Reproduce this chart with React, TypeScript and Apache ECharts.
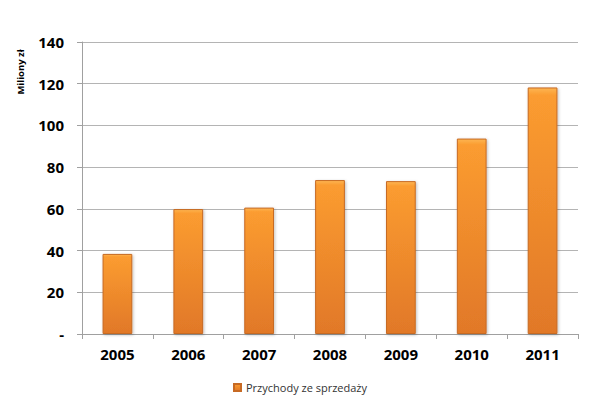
import React, { useEffect, useRef } from "react";
import * as echarts from "echarts";

const categories = ["2005", "2006", "2007", "2008", "2009", "2010", "2011"];
const values = [38.4, 59.9, 60.6, 73.8, 73.3, 93.7, 118.2];
const seriesName = "Przychody ze sprzedaży";
const yAxisName = "Miliony zł";

export default function App() {
  const ref = useRef<HTMLDivElement>(null);
  useEffect(() => {
    if (!ref.current) return;
    const chart = echarts.init(ref.current, undefined, { renderer: "svg" });
    const font = "'Open Sans', 'Liberation Sans', Arial, sans-serif";
    chart.setOption({
      animation: false,
      backgroundColor: "#ffffff",
      grid: { left: 82, right: 22, top: 42, bottom: 73, containLabel: false },
      legend: {
        bottom: 9,
        left: "center",
        itemWidth: 7,
        itemHeight: 7,
        icon: "rect",
        textStyle: { fontFamily: font, fontSize: 11, color: "#333" },
        data: [seriesName],
      },
      graphic: [
        {
          type: "text",
          x: 20,
          y: 72,
          rotation: Math.PI / 2,
          style: {
            text: yAxisName,
            fontFamily: font,
            fontSize: 9.5,
            fontWeight: "bold",
            fill: "#000",
            align: "center",
            verticalAlign: "middle",
          },
        },
      ],
      xAxis: {
        type: "category",
        data: categories,
        axisLine: { show: true, lineStyle: { color: "#a0a0a0", width: 1 } },
        axisTick: { show: true, alignWithLabel: false, length: 5, lineStyle: { color: "#a0a0a0" } },
        axisLabel: { fontFamily: font, fontSize: 15, fontWeight: "bold", color: "#000", margin: 12 },
      },
      yAxis: {
        type: "value",
        min: 0,
        max: 140,
        interval: 20,
        axisLine: { show: true, lineStyle: { color: "#a0a0a0", width: 1 } },
        axisTick: { show: true, length: 5, lineStyle: { color: "#a0a0a0" } },
        axisLabel: {
          fontFamily: font,
          fontSize: 15,
          fontWeight: "bold",
          color: "#000",
          margin: 18,
          formatter: (v: number) => (v === 0 ? "-" : String(v)),
        },
        splitLine: { show: true, lineStyle: { color: "#b4b4b4", width: 1 } },
      },
      series: [
        {
          name: seriesName,
          type: "bar",
          data: values,
          barWidth: "42%",
          itemStyle: {
            color: new echarts.graphic.LinearGradient(0, 0, 0, 1, [
              { offset: 0, color: "#fdb552" },
              { offset: 0.03, color: "#fb9c30" },
              { offset: 1, color: "#e17828" },
            ]),
            borderColor: "#c76a24",
            borderWidth: 1,
            shadowColor: "rgba(0,0,0,0.25)",
            shadowBlur: 3,
            shadowOffsetX: 1,
            shadowOffsetY: 1,
          },
        },
      ],
    });
    return () => chart.dispose();
  }, []);
  return <div ref={ref} style={{ position: "fixed", left: 0, top: 0, width: 600, height: 407 }} />;
}
